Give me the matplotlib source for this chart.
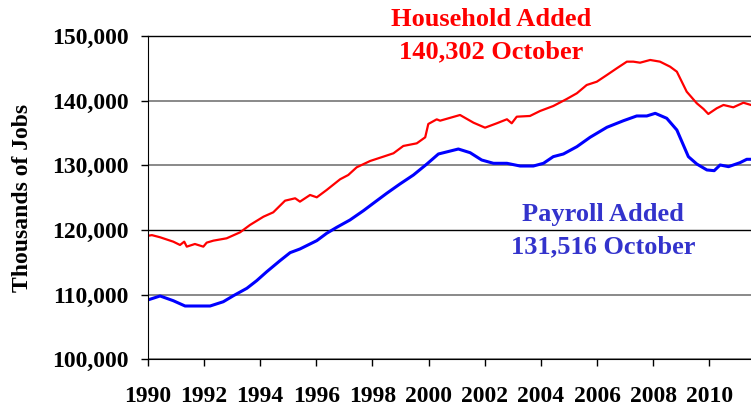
import numpy as np
import matplotlib
matplotlib.use('Agg')
import matplotlib.pyplot as plt
from matplotlib.ticker import FuncFormatter

# Household survey employment (thousands)
household_years = [1990.00, 1990.15, 1990.44, 1990.91, 1991.15, 1991.30, 1991.39, 1991.68,
                   1991.98, 1992.10, 1992.34, 1992.81, 1993.29, 1993.64, 1994.12, 1994.47,
                   1994.89, 1995.25, 1995.42, 1995.78, 1996.02, 1996.37, 1996.85, 1997.14,
                   1997.44, 1997.92, 1998.39, 1998.75, 1999.10, 1999.58, 1999.88, 1999.99,
                   2000.29, 2000.41, 2001.12, 2001.60, 2002.01, 2002.43, 2002.79, 2002.96,
                   2003.14, 2003.61, 2003.97, 2004.44, 2004.92, 2005.28, 2005.63, 2005.99,
                   2006.35, 2006.70, 2007.06, 2007.29, 2007.53, 2007.89, 2008.24, 2008.60,
                   2008.84, 2009.19, 2009.55, 2009.79, 2009.96, 2010.26, 2010.50, 2010.85,
                   2011.21, 2011.48]
household_jobs = [119100, 119200, 118870, 118190, 117680, 118190, 117420, 117830,
                  117420, 118040, 118350, 118710, 119640, 120770, 122050, 122730,
                  124530, 124900, 124380, 125410, 125050, 126180, 127840, 128500,
                  129690, 130670, 131340, 131860, 132990, 133400, 134330, 136390,
                  137110, 136900, 137780, 136590, 135820, 136500, 137120, 136500,
                  137520, 137630, 138400, 139170, 140260, 141140, 142420, 142930,
                  143970, 145000, 146030, 146030, 145870, 146290, 146030, 145250,
                  144480, 141390, 139590, 138710, 137940, 138820, 139330, 138970,
                  139680, 139330]

# Payroll survey employment (thousands)
payroll_years = [1990.00, 1990.44, 1990.91, 1991.33, 1991.74, 1992.22, 1992.69, 1993.05,
                 1993.53, 1993.88, 1994.24, 1994.71, 1995.07, 1995.42, 1996.02, 1996.37,
                 1996.73, 1997.20, 1997.68, 1998.03, 1998.51, 1998.98, 1999.46, 1999.94,
                 2000.35, 2001.06, 2001.48, 2001.89, 2002.31, 2002.79, 2003.26, 2003.73,
                 2004.09, 2004.44, 2004.80, 2005.28, 2005.75, 2006.35, 2006.94, 2007.41,
                 2007.77, 2008.07, 2008.48, 2008.84, 2009.25, 2009.55, 2009.91, 2010.17,
                 2010.38, 2010.68, 2011.09, 2011.33, 2011.48]
payroll_jobs = [109170, 109790, 109060, 108240, 108240, 108240, 108900, 109830,
                110980, 112160, 113550, 115250, 116490, 117060, 118350, 119480,
                120410, 121540, 122980, 124120, 125670, 127110, 128500, 130200,
                131750, 132520, 131950, 130820, 130310, 130310, 129890, 129890,
                130310, 131340, 131750, 132880, 134330, 135880, 136900, 137630,
                137630, 138040, 137270, 135460, 131340, 130200, 129280, 129170,
                130050, 129790, 130410, 130930, 130930]

year_ticks = list(range(1990, 2011, 2))
job_ticks = [100000, 110000, 120000, 130000, 140000, 150000]

plt.rcParams['font.family'] = ['Liberation Serif', 'DejaVu Serif']
plt.rcParams['font.weight'] = 'bold'

fig = plt.figure(figsize=(7.51, 4.08), dpi=100)
ax = fig.add_axes([0.1967, 0.1194, 0.8033, 0.7924])

ax.plot(household_years, household_jobs, color='#FF0000', lw=1.6)
ax.plot(payroll_years, payroll_jobs, color='#0000FF', lw=2.2)

ax.set_xlim(1990, 2011.48)
ax.set_ylim(100000, 150000)
ax.set_xticks(year_ticks)
ax.set_yticks(job_ticks)
ax.yaxis.set_major_formatter(FuncFormatter(lambda v, p: f'{int(v):,}'))

ax.grid(axis='y', color='#808080', lw=1.3)
for line, v in zip(ax.yaxis.get_gridlines(), job_ticks):
    if v == 120000:
        line.set_color('black')
        line.set_linewidth(1.0)
ax.set_axisbelow(True)

ax.spines['right'].set_visible(False)
ax.spines['top'].set_linewidth(1.0)
ax.tick_params(direction='out', length=5, width=1, labelsize=17)
ax.tick_params(axis='y', pad=9)
ax.tick_params(axis='x', pad=14)
for lab in ax.get_xticklabels() + ax.get_yticklabels():
    lab.set_fontweight('bold')

ax.set_ylabel('Thousands of Jobs', fontsize=17, fontweight='bold')
ax.yaxis.set_label_coords(-0.19, 0.5)

ax.text(2002.24, 152475, 'Household Added', color='#FF0000', fontsize=19,
        fontweight='bold', ha='center', va='center', clip_on=False)
ax.text(2002.24, 147525, '140,302 October', color='#FF0000', fontsize=19,
        fontweight='bold', ha='center', va='center')
ax.text(2006.22, 122315, 'Payroll Added', color='#3333CC', fontsize=19,
        fontweight='bold', ha='center', va='center')
ax.text(2006.22, 117410, '131,516 October', color='#3333CC', fontsize=19,
        fontweight='bold', ha='center', va='center')

fig.savefig('out.png', dpi=100)
